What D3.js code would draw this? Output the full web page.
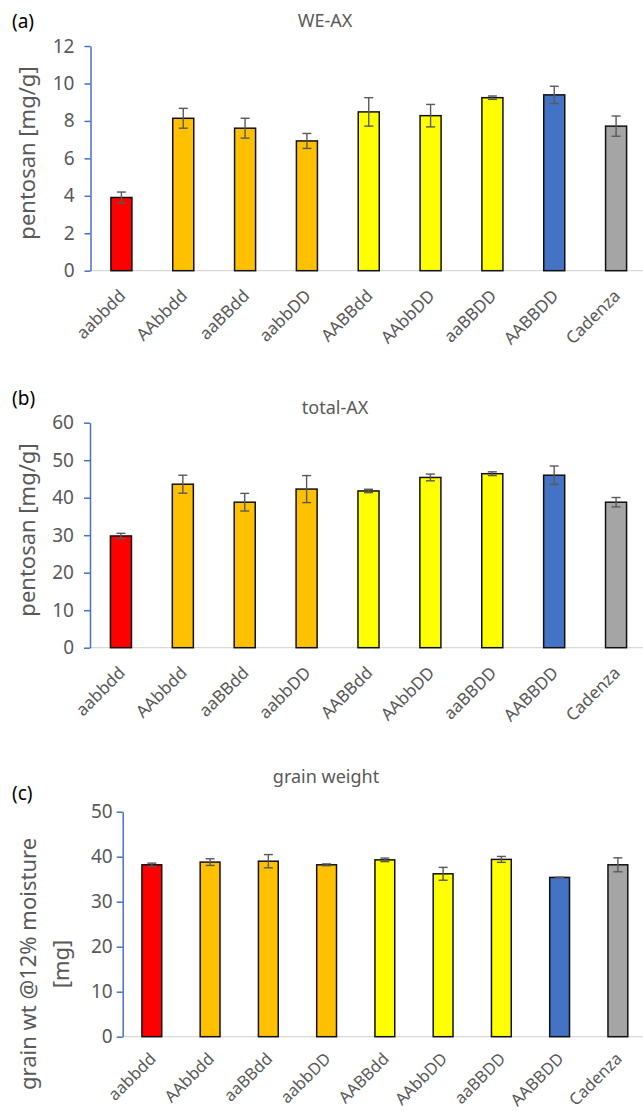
<!DOCTYPE html>
<html>
<head>
<meta charset="utf-8">
<script src="https://cdn.jsdelivr.net/npm/d3@7"></script>
<style>
  body { margin: 0; background: #fff; }
  text { font-family: 'Noto Sans', 'Open Sans', sans-serif; }
</style>
</head>
<body>
<div id="chart"></div>
<script>
// genotypes on the x axis
const categories = ['aabbdd', 'AAbbdd', 'aaBBdd', 'aabbDD', 'AABBdd', 'AAbbDD', 'aaBBDD', 'AABBDD', 'Cadenza'];
const barColors = ['#FF0000', '#FFC000', '#FFC000', '#FFC000', '#FFFF00', '#FFFF00', '#FFFF00', '#4472C4', '#A5A5A5'];

// (a) WE-AX, pentosan mg/g
const weAx = [3.91, 8.14, 7.61, 6.93, 8.48, 8.28, 9.24, 9.39, 7.72];
const weAxErr = [0.29, 0.53, 0.53, 0.40, 0.76, 0.60, 0.09, 0.46, 0.54];
const weAxTicks = [0, 2, 4, 6, 8, 10, 12];

// (b) total-AX, pentosan mg/g
const totalAx = [29.8, 43.6, 38.8, 42.3, 41.8, 45.4, 46.4, 46.0, 38.8];
const totalAxErr = [0.7, 2.4, 2.35, 3.6, 0.45, 0.9, 0.5, 2.45, 1.25];
const totalAxTicks = [0, 10, 20, 30, 40, 50, 60];

// (c) grain weight, mg
const grainWt = [38.2, 38.8, 39.0, 38.2, 39.3, 36.2, 39.4, 35.4, 38.2];
const grainWtErr = [0.37, 0.74, 1.47, 0.2, 0.4, 1.43, 0.66, 0.05, 1.55];
const grainWtTicks = [0, 10, 20, 30, 40, 50];

const width = 643;
const height = 1111;
const textGrey = '#595959';

const svg = d3.select('#chart')
  .append('svg')
  .attr('width', width)
  .attr('height', height);

const panels = [
  {
    tag: '(a)', title: 'WE-AX', values: weAx, errors: weAxErr, ticks: weAxTicks,
    left: 90.5, top: 46, bottom: 270.7, pad: 10, labelDrop: 22, labelSize: 17,
    titleX: 325, titleY: 27, tagY: 28,
    yLabel: ['pentosan [mg/g]'], yLabelX: [27], yLabelY: 153
  },
  {
    tag: '(b)', title: 'total-AX', values: totalAx, errors: totalAxErr, ticks: totalAxTicks,
    left: 90, top: 422.7, bottom: 647.7, pad: 10, labelDrop: 22, labelSize: 17,
    titleX: 335, titleY: 414, tagY: 405,
    yLabel: ['pentosan [mg/g]'], yLabelX: [27], yLabelY: 530
  },
  {
    tag: '(c)', title: 'grain weight', values: grainWt, errors: grainWtErr, ticks: grainWtTicks,
    left: 122.7, top: 811.7, bottom: 1036.7, pad: 4, labelDrop: 19, labelSize: 16.5,
    titleX: 326, titleY: 783, tagY: 800,
    yLabel: ['grain wt @12% moisture', '[mg]'], yLabelX: [28, 61], yLabelY: 964
  }
];

panels.forEach(p => drawPanel(p));

function drawPanel(p) {
  const g = svg.append('g');
  const right = 647;

  const xScale = d3.scaleBand()
    .domain(categories)
    .range([p.left, right])
    .paddingInner(0.66)
    .paddingOuter(0.33);

  const yScale = d3.scaleLinear()
    .domain([0, d3.max(p.ticks)])
    .range([p.bottom, p.top]);

  // grey category baseline
  g.append('line')
    .attr('x1', p.left)
    .attr('x2', width)
    .attr('y1', yScale(0))
    .attr('y2', yScale(0))
    .attr('stroke', '#D9D9D9')
    .attr('stroke-width', 1.3);

  // bars
  g.selectAll('rect.bar')
    .data(p.values)
    .enter()
    .append('rect')
    .attr('class', 'bar')
    .attr('x', (d, i) => xScale(categories[i]))
    .attr('y', d => yScale(d))
    .attr('width', xScale.bandwidth())
    .attr('height', d => yScale(0) - yScale(d))
    .attr('fill', (d, i) => barColors[i])
    .attr('stroke', '#111')
    .attr('stroke-width', 1.5);

  // error bars
  const cap = 4.5;
  const errs = g.selectAll('g.err')
    .data(p.values)
    .enter()
    .append('g')
    .attr('class', 'err')
    .attr('stroke', textGrey)
    .attr('stroke-width', 1.4);
  const cx = i => xScale(categories[i]) + xScale.bandwidth() / 2;
  errs.append('line')
    .attr('x1', (d, i) => cx(i)).attr('x2', (d, i) => cx(i))
    .attr('y1', (d, i) => yScale(d + p.errors[i]))
    .attr('y2', (d, i) => yScale(d - p.errors[i]));
  errs.append('line')
    .attr('x1', (d, i) => cx(i) - cap).attr('x2', (d, i) => cx(i) + cap)
    .attr('y1', (d, i) => yScale(d + p.errors[i]))
    .attr('y2', (d, i) => yScale(d + p.errors[i]));
  errs.append('line')
    .attr('x1', (d, i) => cx(i) - cap).attr('x2', (d, i) => cx(i) + cap)
    .attr('y1', (d, i) => yScale(d - p.errors[i]))
    .attr('y2', (d, i) => yScale(d - p.errors[i]));

  // y axis
  const yAxisGroup = g.append('g')
    .attr('transform', `translate(${p.left}, 0)`)
    .call(d3.axisLeft(yScale).tickValues(p.ticks).tickSize(6).tickSizeOuter(0).tickPadding(p.pad));
  yAxisGroup.select('.domain').attr('stroke', '#4472C4').attr('stroke-width', 1.5);
  yAxisGroup.selectAll('.tick line').attr('stroke', '#4472C4').attr('stroke-width', 1.5);
  yAxisGroup.selectAll('text')
    .attr('fill', textGrey)
    .attr('font-size', 19)
    .style('font-family', "'Noto Sans', sans-serif");

  // x axis labels, rotated
  g.selectAll('text.xlab')
    .data(categories)
    .enter()
    .append('text')
    .attr('class', 'xlab')
    .attr('transform', d => `translate(${xScale(d) + xScale.bandwidth() / 2 + 1}, ${yScale(0) + p.labelDrop}) rotate(-45)`)
    .attr('text-anchor', 'end')
    .attr('dy', '0.35em')
    .attr('fill', textGrey)
    .attr('font-size', p.labelSize)
    .text(d => d);

  // title
  g.append('text')
    .attr('x', p.titleX)
    .attr('y', p.titleY)
    .attr('text-anchor', 'middle')
    .attr('fill', textGrey)
    .attr('font-size', 18)
    .text(p.title);

  // panel tag
  g.append('text')
    .attr('x', 12)
    .attr('y', p.tagY)
    .attr('fill', '#000')
    .attr('font-size', 19)
    .text(p.tag);

  // y axis title
  p.yLabel.forEach((line, k) => {
    g.append('text')
      .attr('transform', `translate(${p.yLabelX[k]}, ${p.yLabelY}) rotate(-90)`)
      .attr('text-anchor', 'middle')
      .attr('dy', '0.35em')
      .attr('fill', textGrey)
      .attr('font-size', 22)
      .text(line);
  });
}
</script>
</body>
</html>
